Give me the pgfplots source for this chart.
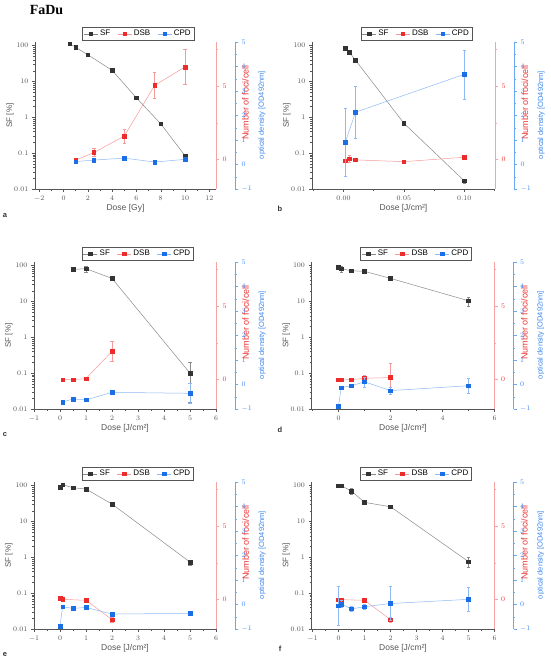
\documentclass[border=0pt]{standalone}
\usepackage{fontspec}
\setmainfont{Liberation Sans}
\newfontfamily\serifbold{Liberation Serif}
\usepackage{pgfplots}
\pgfplotsset{compat=1.18}
\definecolor{sfmark}{HTML}{333333}
\definecolor{sfline}{HTML}{8A8A8A}
\definecolor{dsbmark}{HTML}{EE2B2B}
\definecolor{dsbline}{HTML}{F49A9A}
\definecolor{cpdmark}{HTML}{1C6EE6}
\definecolor{cpdline}{HTML}{8EB9F2}
\definecolor{axgray}{HTML}{555555}
\definecolor{redax}{HTML}{F5A3A3}
\definecolor{redtxt}{HTML}{EE3333}
\definecolor{blueax}{HTML}{6AA6F2}
\definecolor{bluetxt}{HTML}{3D88EE}
\pgfplotsset{
  pfSF/.style={scale only axis, height=147pt,
    tick align=outside, major tick length=3pt, minor tick length=1.6pt,
    tick label style={font=\fontsize{7}{8}\selectfont, text=axgray},
    ymin=0.01, ymax=127,
    axis y line*=left, axis x line*=bottom,
    axis line style={-, axgray, line width=0.6pt},
    tick style={axgray, line width=0.45pt},
    log ticks with fixed point, ytick={0.01,0.1,1,10,100},
    minor x tick num=1,
    xlabel style={font=\fontsize{8.5}{9}\selectfont, text=axgray, at={(rel axis cs:0.5,-0.13)}, anchor=center},
    ylabel={SF [\%]},
    ylabel style={font=\fontsize{8}{9}\selectfont, text=axgray, at={(rel axis cs:-0.138,0.5)}, anchor=center},
    legend columns=3,
    legend style={at={(rel axis cs:0.57,1.055)}, anchor=center, draw=axgray, line width=0.4pt,
      font=\fontsize{8}{8.5}\selectfont, inner sep=1pt, row sep=0pt,
      /tikz/every even column/.append style={column sep=5pt}},
    legend image code/.code={\draw[mark repeat=2,mark phase=2,##1] plot coordinates {(0pt,0pt) (7pt,0pt) (14pt,0pt)};}},
  pfDSB/.style={scale only axis, height=147pt,
    tick align=outside, major tick length=3pt, minor tick length=1.6pt,
    tick label style={font=\fontsize{7}{8}\selectfont, text=redtxt},
    ymin=-2, ymax=8, axis y line*=right, axis x line=none,
    ytick={-5,0,5,10}, minor y tick num=1,
    axis line style={-, redax, line width=0.8pt},
    tick style={redax, line width=0.45pt},
    ylabel={Number of foci/cell},
    ylabel style={font=\fontsize{9}{10}\selectfont, text=redtxt, at={(rel axis cs:1.163,0.59)}, anchor=center}},
  pfCPD/.style={scale only axis, height=147pt,
    tick align=outside, major tick length=3pt, minor tick length=1.6pt,
    tick label style={font=\fontsize{7}{8}\selectfont, text=bluetxt},
    ymin=-1, ymax=5, axis y line*=right, axis x line=none,
    ytick={-1,0,...,5}, minor y tick num=1,
    axis line style={-, blueax, line width=0.7pt},
    tick style={blueax, line width=0.45pt},
    ylabel={optical density [OD492nm]},
    ylabel style={font=\fontsize{7.5}{9}\selectfont, text=bluetxt, at={(rel axis cs:1.135,0.503)}, anchor=center}},
  plSF/.style={color=sfline, line width=0.5pt, mark=square*, mark size=1.8pt, mark options={fill=sfmark, draw=sfmark, solid},
    error bars/y dir=both, error bars/y explicit, error bars/error bar style={sfline, line width=0.4pt},
    error bars/error mark options={rotate=90, mark size=1.6pt, sfline}},
  plDSB/.style={color=dsbline, line width=0.5pt, mark=square*, mark size=1.8pt, mark options={fill=dsbmark, draw=dsbmark, solid},
    error bars/y dir=both, error bars/y explicit, error bars/error bar style={dsbline, line width=0.4pt},
    error bars/error mark options={rotate=90, mark size=1.6pt, dsbline}},
  plCPD/.style={color=cpdline, line width=0.5pt, mark=square*, mark size=1.8pt, mark options={fill=cpdmark, draw=cpdmark, solid},
    error bars/y dir=both, error bars/y explicit, error bars/error bar style={cpdline, line width=0.4pt},
    error bars/error mark options={rotate=90, mark size=1.6pt, cpdline}},
  lgDSB/.style={color=dsbline, line width=0.5pt, mark=square*, mark size=1.8pt, mark options={fill=dsbmark, draw=dsbmark}},
  lgCPD/.style={color=cpdline, line width=0.5pt, mark=square*, mark size=1.8pt, mark options={fill=cpdmark, draw=cpdmark}},
}
\begin{document}
\begin{tikzpicture}
\useasboundingbox (0,0) rectangle (550pt,661pt);
\node[font=\serifbold\bfseries\fontsize{14}{16}\selectfont] at (46.5pt,651pt) {FaDu};
\node[font=\bfseries\fontsize{7.5}{8}\selectfont, text=black!80] at (5pt,445pt) {a};
\node[font=\bfseries\fontsize{7.5}{8}\selectfont, text=black!80] at (280pt,452pt) {b};
\node[font=\bfseries\fontsize{7.5}{8}\selectfont, text=black!80] at (5pt,226pt) {c};
\node[font=\bfseries\fontsize{7.5}{8}\selectfont, text=black!80] at (280pt,231pt) {d};
\node[font=\bfseries\fontsize{7.5}{8}\selectfont, text=black!80] at (5pt,6pt) {e};
\node[font=\bfseries\fontsize{7.5}{8}\selectfont, text=black!80] at (280pt,12pt) {f};

% ---------------- panel a
\begin{semilogyaxis}[pfSF, at={(35pt,472pt)}, width=181pt, xmin=-2.35, xmax=12.55,
  xtick={-2,0,...,12}, xlabel={Dose [Gy]}]
\addplot[plSF] coordinates {(0.5,114)+-(0,4) (1,90)+-(0,4) (2,56)+-(0,3) (4,20.5)+-(0,1.5) (6,3.5)+-(0,0.3) (8,0.66)+-(0,0.05) (10,0.085)+-(0,0.01)};
\addlegendentry{SF}
\addlegendimage{lgDSB}\addlegendentry{DSB}
\addlegendimage{lgCPD}\addlegendentry{CPD}
\end{semilogyaxis}
\begin{axis}[pfDSB, at={(35pt,472pt)}, width=181pt, xmin=-2.35, xmax=12.55]
\addplot[plDSB] coordinates {(1,-0.04)+-(0,0.1) (2.5,0.48)+-(0,0.28) (5,1.6)+-(0,0.5) (7.5,5.05)+-(0,0.88) (10,6.3)+-(0,1.2)};
\end{axis}
\begin{axis}[pfCPD, at={(35pt,472pt)}, width=200pt, xmin=-2.35, xmax=14.11]
\addplot[plCPD] coordinates {(1,0.12)+-(0,0.05) (2.5,0.18)+-(0,0.04) (5,0.26)+-(0,0.04) (7.5,0.1)+-(0,0.03) (10,0.21)+-(0,0.05)};
\end{axis}

% ---------------- panel b
\begin{semilogyaxis}[pfSF, at={(312pt,472pt)}, width=183pt, xmin=-0.026, xmax=0.1254,
  xtick={-0.05,0,0.05,0.1,0.15}, xlabel={Dose [J/cm²]},
  xticklabel style={/pgf/number format/.cd, fixed, fixed zerofill, precision=2}]
\addplot[plSF] coordinates {(0.0015,86)+-(0,3) (0.005,65)+-(0,3) (0.01,39.5)+-(0,2) (0.05,0.686)+-(0,0.05) (0.1,0.0168)+-(0,0.002)};
\addlegendentry{SF}
\addlegendimage{lgDSB}\addlegendentry{DSB}
\addlegendimage{lgCPD}\addlegendentry{CPD}
\end{semilogyaxis}
\begin{axis}[pfDSB, at={(312pt,472pt)}, width=183pt, xmin=-0.026, xmax=0.1254]
\addplot[plDSB] coordinates {(0.0015,-0.09)+-(0,0.1) (0.005,0.07)+-(0,0.25) (0.01,-0.02)+-(0,0.1) (0.05,-0.14)+-(0,0.05) (0.1,0.16)+-(0,0.05)};
\end{axis}
\begin{axis}[pfCPD, at={(312pt,472pt)}, width=202pt, xmin=-0.026, xmax=0.1411]
\addplot[plCPD] coordinates {(0.0015,0.90)+-(0,1.38) (0.01,2.135)+-(0,1.05) (0.1,3.68)+-(0,1.0)};
\end{axis}

% ---------------- panel c
\begin{semilogyaxis}[pfSF, at={(34pt,252pt)}, width=182pt, xmin=-1, xmax=6,
  xtick={-1,0,...,6}, xlabel={Dose [J/cm²]}]
\addplot[plSF] coordinates {(0.5,79)+-(0,8) (1,82.5)+-(0,15) (2,44.3)+-(0,5) (5,0.1) += (0,0.1) -= (0,0.085)};
\addlegendentry{SF}
\addlegendimage{lgDSB}\addlegendentry{DSB}
\addlegendimage{lgCPD}\addlegendentry{CPD}
\end{semilogyaxis}
\begin{axis}[pfDSB, at={(34pt,252pt)}, width=182pt, xmin=-1, xmax=6]
\addplot[plDSB] coordinates {(0.1,0.0) (0.5,0.0) (1,0.07) (2,1.92)+-(0,0.7)};
\end{axis}
\begin{axis}[pfCPD, at={(34pt,252pt)}, width=201pt, xmin=-1, xmax=6.731]
\addplot[plCPD] coordinates {(0.1,-0.715)+-(0,0.05) (0.5,-0.59) (1,-0.63) (2,-0.32)+-(0,0.08) (5,-0.36)+-(0,0.4)};
\end{axis}

% ---------------- panel d
\begin{semilogyaxis}[pfSF, at={(311.5pt,252pt)}, width=183pt, xmin=-1.04, xmax=6,
  xtick={-2,0,...,6}, xlabel={Dose [J/cm²]}]
\addplot[plSF] coordinates {(0,91.8)+-(0,8) (0.1,82)+-(0,15) (0.5,72.5)+-(0,5) (1,69.5)+-(0,8) (2,44.3)+-(0,5) (5,10.5)+-(0,3)};
\addlegendentry{SF}
\addlegendimage{lgDSB}\addlegendentry{DSB}
\addlegendimage{lgCPD}\addlegendentry{CPD}
\end{semilogyaxis}
\begin{axis}[pfDSB, at={(311.5pt,252pt)}, width=183pt, xmin=-1.04, xmax=6]
\addplot[plDSB] coordinates {(0,0.0) (0.1,-0.02) (0.5,0.0) (1,0.09)+-(0,0.2) (2,0.14)+-(0,1.0)};
\end{axis}
\begin{axis}[pfCPD, at={(311.5pt,252pt)}, width=202pt, xmin=-1.04, xmax=6.731]
\addplot[plCPD] coordinates {(0,-0.88) (0.1,-0.13) (0.5,-0.05) (1,0.11)+-(0,0.2) (2,-0.25)+-(0,0.15) (5,-0.05)+-(0,0.3)};
\end{axis}

% ---------------- panel e
\begin{semilogyaxis}[pfSF, at={(34pt,32pt)}, width=182pt, xmin=-1, xmax=6,
  xtick={-1,0,...,6}, xlabel={Dose [J/cm²]}]
\addplot[plSF] coordinates {(0,91.8)+-(0,10) (0.1,106.6)+-(0,6) (0.5,88)+-(0,5) (1,80.7)+-(0,5) (2,30.8)+-(0,3) (5,0.74)+-(0,0.12)};
\addlegendentry{SF}
\addlegendimage{lgDSB}\addlegendentry{DSB}
\addlegendimage{lgCPD}\addlegendentry{CPD}
\end{semilogyaxis}
\begin{axis}[pfDSB, at={(34pt,32pt)}, width=182pt, xmin=-1, xmax=6]
\addplot[plDSB] coordinates {(0,0.09) (0.1,0.02) (1,-0.05) (2,-1.36)+-(0,0.15)};
\end{axis}
\begin{axis}[pfCPD, at={(34pt,32pt)}, width=201pt, xmin=-1, xmax=6.731]
\addplot[plCPD] coordinates {(0,-0.88) (0.1,-0.09) (0.5,-0.16) (1,-0.12) (2,-0.39) (5,-0.36)};
\end{axis}

% ---------------- panel f
\begin{semilogyaxis}[pfSF, at={(311.5pt,32pt)}, width=183pt, xmin=-1.04, xmax=6,
  xtick={-1,0,...,6}, xlabel={Dose [J/cm²]}]
\addplot[plSF] coordinates {(0,100)+-(0,10) (0.1,100)+-(0,5) (0.5,71)+-(0,12) (1,34.3)+-(0,3) (2,25.9)+-(0,2) (5,0.76)+-(0,0.22)};
\addlegendentry{SF}
\addlegendimage{lgDSB}\addlegendentry{DSB}
\addlegendimage{lgCPD}\addlegendentry{CPD}
\end{semilogyaxis}
\begin{axis}[pfDSB, at={(311.5pt,32pt)}, width=183pt, xmin=-1.04, xmax=6]
\addplot[plDSB] coordinates {(0,0) (0.1,0) (1,-0.05) (2,-1.36)+-(0,0.15)};
\end{axis}
\begin{axis}[pfCPD, at={(311.5pt,32pt)}, width=202pt, xmin=-1.04, xmax=6.731]
\addplot[plCPD] coordinates {(0,-0.05)+-(0,0.8) (0.1,0.02)+-(0,0.15) (0.5,-0.18)+-(0,0.1) (1,-0.09)+-(0,0.1) (2,0.04)+-(0,0.7) (5,0.21)+-(0,0.5)};
\end{axis}
\end{tikzpicture}
\end{document}
